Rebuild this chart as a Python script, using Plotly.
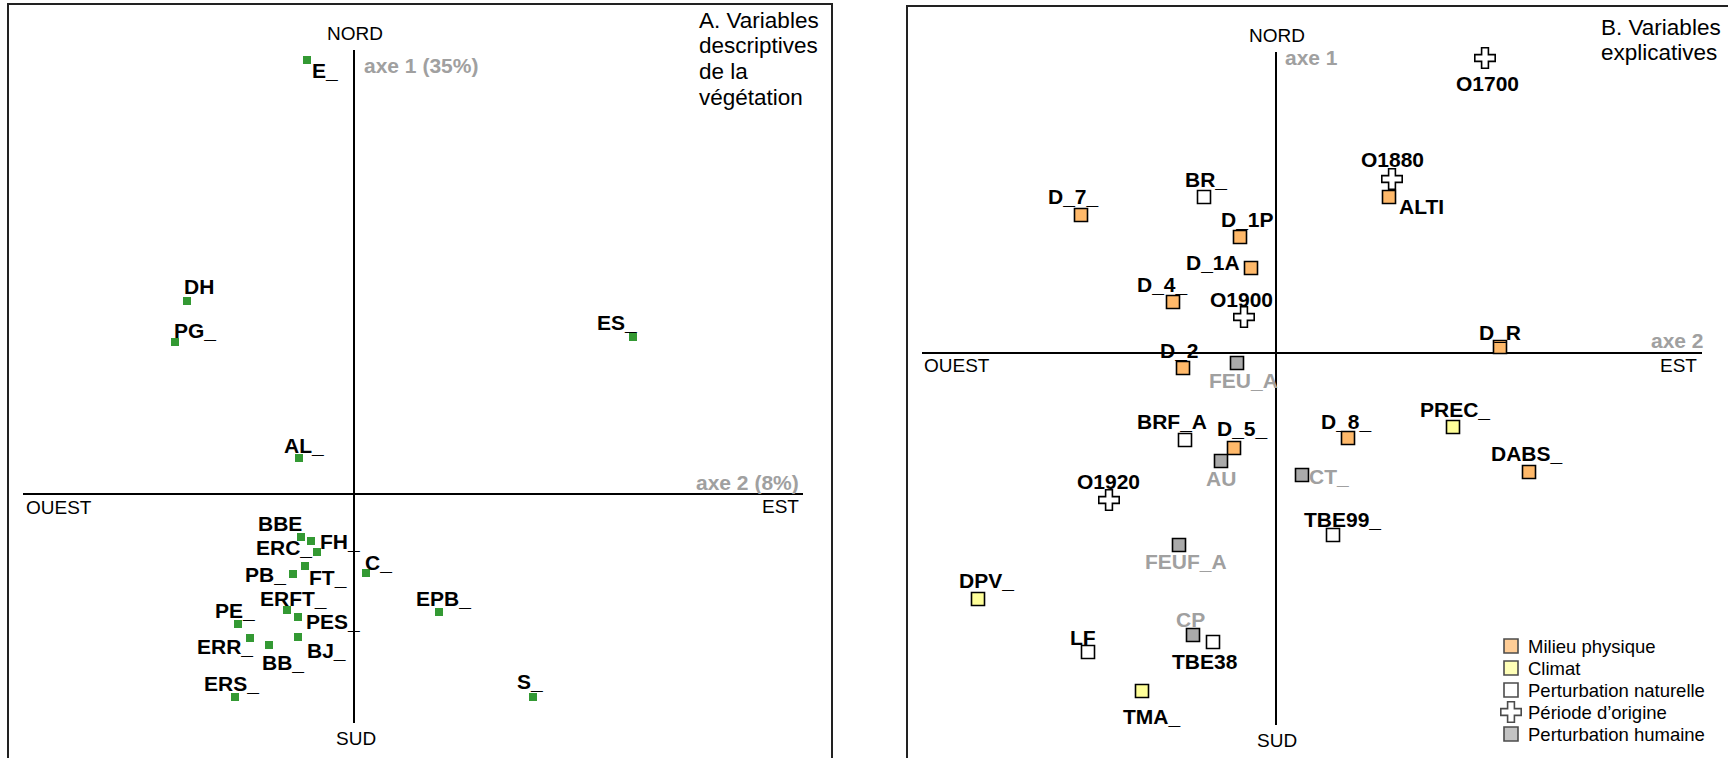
import plotly.graph_objects as go

W, H = 1728, 758
FONT = "Arial, 'Liberation Sans', sans-serif"

# ---------------- Panel A : variables descriptives de la végétation ----------------
a_labels = ["E_", "DH", "PG_", "ES_", "AL_", "BBE", "FH_", "ERC_", "PB_", "FT_",
            "C_", "ERFT_", "PES_", "PE_", "ERR_", "BB_", "BJ_", "ERS_", "EPB_", "S_"]
a_axe2 = [-0.47, -1.67, -1.79, 2.79, -0.55, -0.53, -0.43, -0.37, -0.61, -0.49,
          0.12, -0.67, -0.56, -1.16, -1.04, -0.85, -0.56, -1.19, 0.85, 1.79]
a_axe1 = [4.34, 1.93, 1.52, 1.57, 0.36, -0.43, -0.47, -0.58, -0.80, -0.72,
          -0.79, -1.16, -1.23, -1.30, -1.44, -1.51, -1.43, -2.03, -1.18, -2.03]
# label offsets in pixels (dx right, dy down)
a_lab_dx = [18, 12, 20, -16, 5, -21, 29, -33, -28, 23, 12, 6, 35, -3, -25, 14, 28, -4, 4, -3]
a_lab_dy = [10, -15, -12, -15, -13, -14, 0, -5, 0, 11, -11, -12, 4, -14, 8, 17, 13, -14, -14, -16]

# ---------------- Panel B : variables explicatives ----------------
groups = ["Milieu physique", "Climat", "Perturbation naturelle",
          "Période d’origine", "Perturbation humaine"]
b_labels = ["D_7_", "D_1P", "D_1A", "D_4_", "D_2", "D_R", "ALTI", "D_5_", "D_8_", "DABS_",
            "PREC_", "DPV_", "TMA_",
            "BR_", "BRF_A", "TBE99_", "LF", "TBE38",
            "O1700", "O1880", "O1900", "O1920",
            "FEU_A", "AU", "CT_", "FEUF_A", "CP"]
b_axe2 = [-1.95, -0.36, -0.25, -1.03, -0.93, 2.24, 1.13, -0.42, 0.72, 2.53,
          1.77, -2.98, -1.34,
          -0.72, -0.91, 0.57, -1.88, -0.63,
          2.09, 1.16, -0.32, -1.67,
          -0.39, -0.55, 0.26, -0.97, -0.83]
b_axe1 = [1.38, 1.16, 0.85, 0.51, -0.15, 0.06, 1.56, -0.95, -0.85, -1.19,
          -0.74, -2.46, -3.38,
          1.56, -0.87, -1.82, -2.99, -2.89,
          2.95, 1.74, 0.36, -1.47,
          -0.10, -1.08, -1.22, -1.92, -2.82]
b_group = [0] * 10 + [1] * 3 + [2] * 5 + [3] * 4 + [4] * 5
b_lab_dx = [-8, 7, -38, -11, -4, 0, 32, 8, -2, -2,
            2, 8, 9,
            2, -13, 9, -5, -8,
            2, 0, -3, -1,
            6, 0, 27, 7, -3]
b_lab_dy = [-19, -18, -6, -18, -18, -15, 9, -20, -17, -19,
            -18, -19, 25,
            -18, -19, -16, -15, 19,
            25, -20, -18, -19,
            17, 17, 1, 16, -16]

g_fill = ["#FFB96A", "#FFFF99", "#FFFFFF", "#FFFFFF", "#AAAAAA"]
g_symbol = ["square", "square", "square", "cross", "square"]
g_size = [13, 13, 13, 17, 13]
g_leg_size = [14, 14, 14, 17, 14]
g_labcolor = ["#000000", "#000000", "#000000", "#000000", "#A0A0A0"]


def px(x):
    return x / W


def py(y):
    return 1 - y / H


fig = go.Figure()

# panel A points
fig.add_trace(go.Scatter(
    x=a_axe2, y=a_axe1, mode="markers", xaxis="x", yaxis="y",
    marker=dict(symbol="square", size=8, color="#339933", line=dict(width=0)),
    showlegend=False, hoverinfo="text", text=a_labels))

# panel B points per group
for gi, gname in enumerate(groups):
    idx = [i for i, g in enumerate(b_group) if g == gi]
    fig.add_trace(go.Scatter(
        x=[b_axe2[i] for i in idx], y=[b_axe1[i] for i in idx],
        mode="markers", xaxis="x2", yaxis="y2", name=gname, showlegend=False,
        marker=dict(symbol=g_symbol[gi], size=g_size[gi], color=g_fill[gi],
                    line=dict(width=1.6, color="#000000")),
        hoverinfo="text", text=[b_labels[i] for i in idx]))

# manual legend (one row per group) on its own hidden axes
fig.add_trace(go.Scatter(
    x=[0] * len(groups), y=list(range(len(groups))), mode="markers",
    xaxis="x3", yaxis="y3", showlegend=False, hoverinfo="skip",
    marker=dict(symbol=g_symbol, size=g_leg_size, color=g_fill,
                line=dict(width=1.6, color="#000000"))))

annotations = []
for i, lab in enumerate(a_labels):
    annotations.append(dict(
        x=a_axe2[i], y=a_axe1[i], xref="x", yref="y", text="<b>%s</b>" % lab,
        showarrow=False, xanchor="center", yanchor="middle",
        xshift=a_lab_dx[i], yshift=-a_lab_dy[i],
        font=dict(family=FONT, size=21, color="#000000")))
for i, lab in enumerate(b_labels):
    annotations.append(dict(
        x=b_axe2[i], y=b_axe1[i], xref="x2", yref="y2", text="<b>%s</b>" % lab,
        showarrow=False, xanchor="center", yanchor="middle",
        xshift=b_lab_dx[i], yshift=-b_lab_dy[i],
        font=dict(family=FONT, size=21, color=g_labcolor[b_group[i]])))
for gi, gname in enumerate(groups):
    annotations.append(dict(
        x=0, y=gi, xref="x3", yref="y3", text=gname, showarrow=False,
        xanchor="left", yanchor="middle", xshift=15,
        font=dict(family=FONT, size=18.5, color="#000000")))


def ptext(text, x, y, xanchor="center", yanchor="middle", size=19,
          color="#000000", align="left"):
    annotations.append(dict(
        x=px(x), y=py(y), xref="paper", yref="paper", text=text,
        showarrow=False, xanchor=xanchor, yanchor=yanchor, align=align,
        font=dict(family=FONT, size=size, color=color)))


# Panel A texts
ptext("NORD", 355, 33)
ptext("SUD", 356, 738)
ptext("OUEST", 24, 507, xanchor="left")
ptext("EST", 801, 506, xanchor="right")
ptext("<b>axe 1 (35%)</b>", 362, 65, xanchor="left", size=21, color="#A0A0A0")
ptext("<b>axe 2 (8%)</b>", 801, 482, xanchor="right", size=21, color="#A0A0A0")
for k, line in enumerate(["A. Variables", "descriptives", "de la", "végétation"]):
    ptext(line, 697, 20 + 25.7 * k, xanchor="left", size=22.5)

# Panel B texts
ptext("NORD", 1277, 35)
ptext("SUD", 1277, 740)
ptext("OUEST", 922, 365, xanchor="left")
ptext("EST", 1699, 365, xanchor="right")
ptext("<b>axe 1</b>", 1283, 58, xanchor="left", size=21, color="#A0A0A0")
ptext("<b>axe 2</b>", 1706, 340, xanchor="right", size=21, color="#A0A0A0")
for k, line in enumerate(["B. Variables", "explicatives"]):
    ptext(line, 1599, 27 + 25.7 * k, xanchor="left", size=22.5)

shapes = []
# frames
for (x0, x1, y0) in [(8, 832, 4), (907, 1760, 6)]:
    shapes.append(dict(type="rect", xref="paper", yref="paper",
                       x0=px(x0), x1=px(x1), y0=py(y0), y1=py(800),
                       line=dict(color="#222222", width=2), layer="below"))
# axis cross lines (through origin)
shapes.append(dict(type="line", xref="x", yref="y", x0=0, x1=0, y0=-2.29, y1=4.44,
                   line=dict(color="#000000", width=2), layer="below"))
shapes.append(dict(type="line", xref="x", yref="y", x0=-3.31, x1=4.49, y0=0, y1=0,
                   line=dict(color="#000000", width=2), layer="below"))
shapes.append(dict(type="line", xref="x2", yref="y2", x0=0, x1=0, y0=-3.72, y1=3.01,
                   line=dict(color="#000000", width=2), layer="below"))
shapes.append(dict(type="line", xref="x2", yref="y2", x0=-3.54, x1=4.26, y0=0, y1=0,
                   line=dict(color="#000000", width=2), layer="below"))

ax_common = dict(visible=False, showgrid=False, zeroline=False, fixedrange=True)
# legend axes: x in pixels relative to marker column, y in row index (22 px per row)
leg_x0, leg_top, row_h = 1511, 646, 22
fig.update_layout(
    width=W, height=H,
    margin=dict(l=0, r=0, t=0, b=0),
    paper_bgcolor="white", plot_bgcolor="rgba(0,0,0,0)",
    xaxis=dict(domain=[px(8), px(832)], range=[-3.46, 4.78], **ax_common),
    yaxis=dict(domain=[0, 1], range=[-2.64, 4.94], anchor="x", **ax_common),
    xaxis2=dict(domain=[px(907), 1], range=[-3.69, 4.52], **ax_common),
    yaxis2=dict(domain=[0, 1], range=[-4.05, 3.53], anchor="x2", **ax_common),
    xaxis3=dict(domain=[px(1490), px(1720)], range=[1490 - leg_x0, 1720 - leg_x0],
                anchor="y3", **ax_common),
    yaxis3=dict(domain=[0, py(620)], range=[(H - leg_top) / row_h, (620 - leg_top) / row_h],
                anchor="x3", **ax_common),
    shapes=shapes,
    annotations=annotations,
    showlegend=False,
    font=dict(family=FONT),
)

fig.write_html("out.html", config={"displayModeBar": False},
               post_script="document.body.style.margin='0px';")
